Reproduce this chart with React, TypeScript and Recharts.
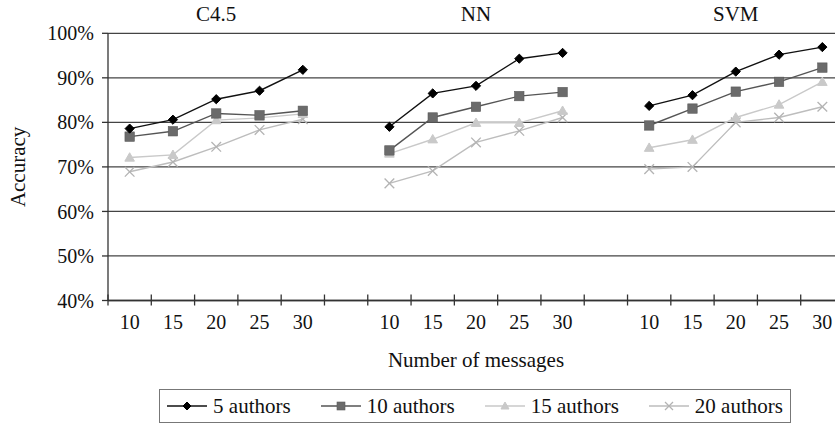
import { LineChart, Line, XAxis, YAxis, CartesianGrid, Legend, Label } from 'recharts'

const groups = ['C4.5', 'NN', 'SVM']
const messageCounts = ['10', '15', '20', '25', '30']
const yTicks = [40, 50, 60, 70, 80, 90, 100]

// accuracy (%) in messageCounts order, for C4.5, then NN, then SVM
const authors5 = [78.6, 80.6, 85.2, 87.1, 91.8, 79.0, 86.5, 88.2, 94.3, 95.6, 83.7, 86.1, 91.4, 95.2, 96.9]
const authors10 = [76.8, 78.0, 82.0, 81.6, 82.6, 73.7, 81.1, 83.5, 85.9, 86.8, 79.3, 83.1, 86.9, 89.1, 92.3]
const authors15 = [72.1, 72.7, 80.5, 81.0, 81.9, 73.0, 76.2, 79.9, 79.9, 82.6, 74.3, 76.1, 81.1, 84.0, 89.1]
const authors20 = [68.9, 71.1, 74.5, 78.3, 80.7, 66.3, 69.1, 75.5, 78.1, 81.1, 69.5, 70.0, 80.0, 81.1, 83.5]

const series = [
  { key: 'a5', name: '5 authors', values: authors5, stroke: '#111', fill: '#000', shape: 'diamond' },
  { key: 'a10', name: '10 authors', values: authors10, stroke: '#555', fill: '#6b6b6b', shape: 'square' },
  { key: 'a15', name: '15 authors', values: authors15, stroke: '#c9c9c9', fill: '#c9c9c9', shape: 'triangle' },
  { key: 'a20', name: '20 authors', values: authors20, stroke: '#bdbdbd', fill: '#b3b3b3', shape: 'cross' },
]

const rows: any[] = []
groups.forEach((g, gi) => {
  if (gi > 0) rows.push({ key: `gap${gi}`, label: '', group: '' })
  messageCounts.forEach((c, ci) => {
    const row: any = { key: `${g}-${c}`, label: c, group: ci === 2 ? g : '' }
    series.forEach((s) => {
      row[s.key] = s.values[gi * messageCounts.length + ci]
    })
    rows.push(row)
  })
})

const FONT = "'Liberation Serif', 'Times New Roman', serif"
const CHART_W = 846
const CHART_H = 424
const Y_AXIS_W = 108
const MARGIN = { top: 0, right: 2, left: 0, bottom: 0 }
const BAND = (CHART_W - MARGIN.left - MARGIN.right - Y_AXIS_W) / rows.length

function marker(shape: string, cx: number, cy: number, r: number, fill: string, stroke: string, key?: any) {
  if (shape === 'diamond') {
    return (
      <polygon key={key} points={`${cx},${cy - r} ${cx + r},${cy} ${cx},${cy + r} ${cx - r},${cy}`} fill={fill} stroke={fill} />
    )
  }
  if (shape === 'square') {
    return <rect key={key} x={cx - r} y={cy - r} width={r * 2} height={r * 2} fill={fill} stroke="#5a5a5a" strokeWidth={0.6} />
  }
  if (shape === 'triangle') {
    return (
      <polygon key={key} points={`${cx},${cy - r} ${cx + r},${cy + r * 0.75} ${cx - r},${cy + r * 0.75}`} fill={fill} stroke={fill} />
    )
  }
  return (
    <g key={key} stroke={fill} strokeWidth={1.3}>
      <line x1={cx - r} y1={cy - r} x2={cx + r} y2={cy + r} />
      <line x1={cx - r} y1={cy + r} x2={cx + r} y2={cy - r} />
    </g>
  )
}

const dotFor = (s: any) => (props: any) => {
  const { cx, cy, value, index } = props
  const key = `${s.key}-${index}`
  if (value == null || cx == null || cy == null) return <g key={key} />
  const r = s.shape === 'diamond' ? 4.6 : s.shape === 'square' ? 4.7 : 4.8
  return marker(s.shape, cx, cy, r, s.fill, s.stroke, key)
}

const BottomTick = (props: any) => {
  const { x, y, index } = props
  const row = rows[index]
  return (
    <g>
      <line x1={x - BAND / 2} x2={x - BAND / 2} y1={y - 6} y2={y + 5} stroke="#333" strokeWidth={1.3} />
      {index === rows.length - 1 && (
        <line x1={x + BAND / 2} x2={x + BAND / 2} y1={y - 6} y2={y + 5} stroke="#333" strokeWidth={1.3} />
      )}
      <text x={x} y={y + 28.5} textAnchor="middle" fontSize={20} fontFamily={FONT} fill="#111">
        {row ? row.label : ''}
      </text>
    </g>
  )
}

const TopTick = (props: any) => {
  const { x, y, index } = props
  const row = rows[index]
  if (!row || !row.group) return <g />
  return (
    <text x={x} y={y - 12} textAnchor="middle" fontSize={21} fontFamily={FONT} fill="#111">
      {row.group}
    </text>
  )
}

const renderLegend = () => (
  <div
    style={{
      boxSizing: 'border-box',
      height: 34,
      width: 632,
      border: '1px solid #777',
      display: 'flex',
      alignItems: 'center',
      justifyContent: 'center',
      gap: 30,
      fontFamily: FONT,
      fontSize: 21,
      color: '#111',
      background: '#fff',
    }}
  >
    {series.map((s) => (
      <div key={s.key} style={{ display: 'flex', alignItems: 'center' }}>
        <svg width={40} height={14} style={{ marginRight: 6 }}>
          <line x1={0} x2={40} y1={7} y2={7} stroke={s.stroke} strokeWidth={1.5} />
          {marker(s.shape, 20, 7, s.shape === 'diamond' ? 4 : 4, s.fill, s.stroke)}
        </svg>
        <span>{s.name}</span>
      </div>
    ))}
  </div>
)

export default function App() {
  return (
    <div style={{ position: 'fixed', left: 0, top: 0, width: 835, height: 424, overflow: 'hidden', background: '#fff' }}>
      <LineChart width={CHART_W} height={CHART_H} data={rows} margin={MARGIN}>
        <CartesianGrid vertical={false} stroke="#444" strokeWidth={1.3} />
        <XAxis
          xAxisId="top"
          orientation="top"
          dataKey="key"
          height={33.3}
          axisLine={false}
          tickLine={false}
          tickSize={0}
          tickMargin={0}
          interval={0}
          padding={{ left: BAND / 2, right: BAND / 2 }}
          tick={<TopTick />}
        />
        <XAxis
          dataKey="key"
          height={89.5}
          axisLine={{ stroke: '#333', strokeWidth: 1.3 }}
          tickLine={false}
          tickSize={0}
          tickMargin={0}
          interval={0}
          padding={{ left: BAND / 2, right: BAND / 2 }}
          tick={<BottomTick />}
        >
          <Label value="Number of messages" position="insideBottom" offset={23} fill="#111" fontSize={21} fontFamily={FONT} />
        </XAxis>
        <YAxis
          width={Y_AXIS_W}
          domain={[40, 100]}
          ticks={yTicks}
          tickFormatter={(v) => `${v}%`}
          tickSize={6}
          tickMargin={8}
          axisLine={{ stroke: '#333', strokeWidth: 1.3 }}
          tickLine={{ stroke: '#333', strokeWidth: 1.3 }}
          tick={{ fontSize: 20, fontFamily: FONT, fill: '#111' }}
        >
          <Label
            content={(p: any) => {
              const vb = p.viewBox || { x: 0, y: 33, height: 267 }
              const cx = vb.x + 18
              const cy = vb.y + vb.height / 2
              return (
                <text
                  x={cx}
                  y={cy}
                  transform={`rotate(-90 ${cx} ${cy})`}
                  textAnchor="middle"
                  dominantBaseline="central"
                  fontSize={21}
                  fontFamily={FONT}
                  fill="#111"
                >
                  Accuracy
                </text>
              )
            }}
          />
        </YAxis>
        <Legend verticalAlign="bottom" content={renderLegend} wrapperStyle={{ left: 159, width: 632, bottom: 1 }} />
        {series
          .slice()
          .reverse()
          .map((s) => (
            <Line
              key={s.key}
              dataKey={s.key}
              name={s.name}
              stroke={s.stroke}
              strokeWidth={1.4}
              dot={dotFor(s)}
              activeDot={false}
              connectNulls={false}
              isAnimationActive={false}
            />
          ))}
      </LineChart>
    </div>
  )
}
